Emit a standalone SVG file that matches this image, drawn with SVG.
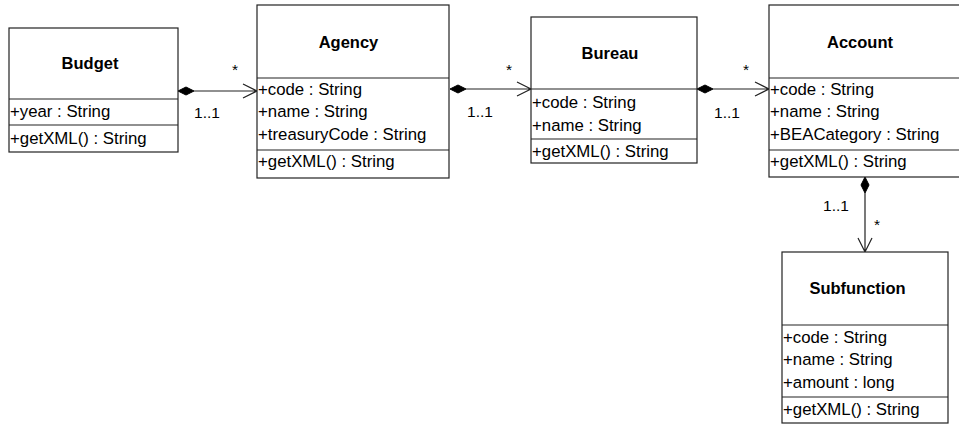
<svg xmlns="http://www.w3.org/2000/svg" width="959" height="424" viewBox="0 0 959 424">
<defs>
<style>
.box{fill:#fff;stroke:#222;stroke-width:1.2}
.sep{stroke:#222;stroke-width:1.2}
.t{font-family:"Liberation Sans",Arial,sans-serif;font-size:16.5px;font-weight:bold;text-anchor:middle;fill:#000}
.a{font-family:"Liberation Sans",Arial,sans-serif;font-size:16.8px;fill:#000}
.m{font-family:"Liberation Sans",Arial,sans-serif;font-size:15.5px;fill:#000;text-anchor:middle}
.ln{fill:none;stroke:#222;stroke-width:1.2}
.dia{fill:#000;stroke:#000;stroke-width:1}
</style>
</defs>
<rect width="959" height="424" fill="#fff"/>
<g id="connectors">
<g id="c1">
<path class="ln" d="M194,91 H257 M243,84 L257,91 L243,98"/>
<path class="dia" d="M178,91 L186,87 L194,91 L186,95 Z"/>
<text class="m" x="235" y="75">*</text>
<text class="m" x="207" y="118">1..1</text>
</g>
<g id="c2">
<path class="ln" d="M466,89 H531 M517,82 L531,89 L517,96"/>
<path class="dia" d="M450,89 L458,85 L466,89 L458,93 Z"/>
<text class="m" x="509" y="75">*</text>
<text class="m" x="480" y="117">1..1</text>
</g>
<g id="c3">
<path class="ln" d="M713,89 H769 M755,82 L769,89 L755,96"/>
<path class="dia" d="M697,89 L705,85 L713,89 L705,93 Z"/>
<text class="m" x="746" y="75">*</text>
<text class="m" x="727" y="118">1..1</text>
</g>
<g id="c4">
<path class="ln" d="M865,193 V252 M858,238 L865,252 L872,238"/>
<path class="dia" d="M865,177 L869,185 L865,193 L861,185 Z"/>
<text class="m" x="836" y="211">1..1</text>
<text class="m" x="877" y="230">*</text>
</g>
</g>
<g id="budget">
<rect class="box" x="9" y="28" width="169" height="124"/>
<line class="sep" x1="9" y1="99" x2="178" y2="99"/>
<line class="sep" x1="9" y1="125" x2="178" y2="125"/>
<text class="t" x="90" y="69">Budget</text>
<text class="a" x="10" y="117">+year : String</text>
<text class="a" x="10" y="144">+getXML() : String</text>
</g>
<g id="agency">
<rect class="box" x="257" y="5" width="192" height="173"/>
<line class="sep" x1="257" y1="78" x2="449" y2="78"/>
<line class="sep" x1="257" y1="150" x2="449" y2="150"/>
<text class="t" x="348.5" y="48">Agency</text>
<text class="a" x="258" y="95">+code : String</text>
<text class="a" x="258" y="117">+name : String</text>
<text class="a" x="258" y="140">+treasuryCode : String</text>
<text class="a" x="258" y="167">+getXML() : String</text>
</g>
<g id="bureau">
<rect class="box" x="531" y="17" width="166" height="146"/>
<line class="sep" x1="531" y1="89" x2="697" y2="89"/>
<line class="sep" x1="531" y1="139" x2="697" y2="139"/>
<text class="t" x="610" y="59">Bureau</text>
<text class="a" x="532" y="108">+code : String</text>
<text class="a" x="532" y="131">+name : String</text>
<text class="a" x="532" y="157">+getXML() : String</text>
</g>
<g id="account">
<rect class="box" x="769" y="5" width="192" height="172"/>
<line class="sep" x1="769" y1="78" x2="961" y2="78"/>
<line class="sep" x1="769" y1="150" x2="961" y2="150"/>
<text class="t" x="860" y="48">Account</text>
<text class="a" x="770" y="95">+code : String</text>
<text class="a" x="770" y="117">+name : String</text>
<text class="a" x="770" y="140">+BEACategory : String</text>
<text class="a" x="770" y="167">+getXML() : String</text>
</g>
<g id="subfunction">
<rect class="box" x="782" y="252" width="166" height="171"/>
<line class="sep" x1="782" y1="325" x2="948" y2="325"/>
<line class="sep" x1="782" y1="397" x2="948" y2="397"/>
<text class="t" x="857.5" y="294">Subfunction</text>
<text class="a" x="783" y="343">+code : String</text>
<text class="a" x="783" y="365">+name : String</text>
<text class="a" x="783" y="388">+amount : long</text>
<text class="a" x="783" y="415">+getXML() : String</text>
</g>
</svg>
